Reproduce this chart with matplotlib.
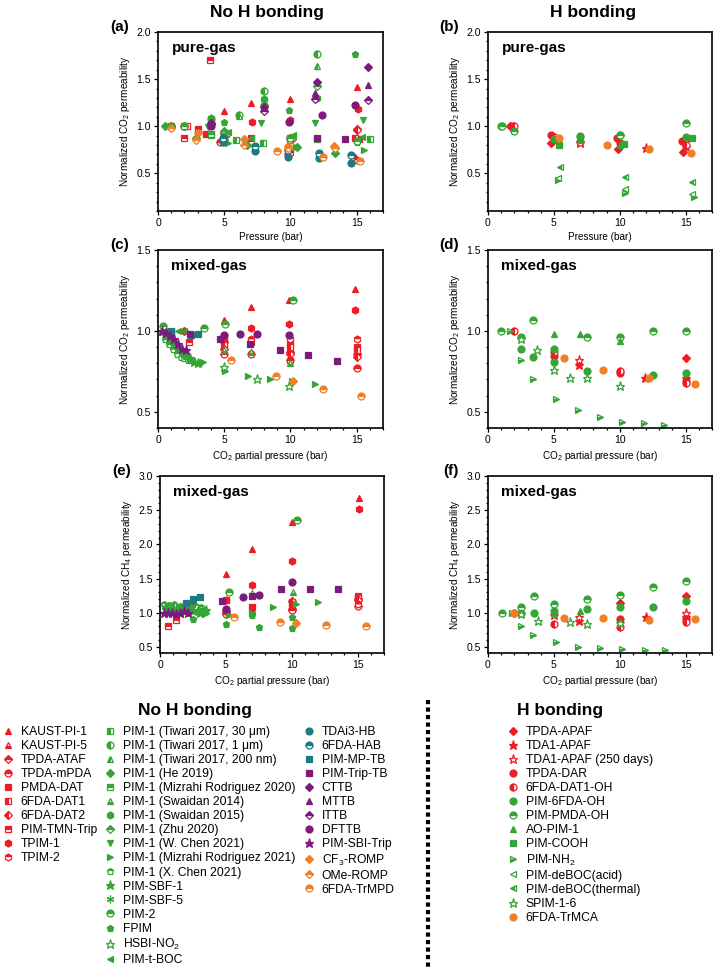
import matplotlib
matplotlib.use('Agg')
import matplotlib.pyplot as plt
from matplotlib.lines import Line2D
from matplotlib.ticker import MultipleLocator

plt.rcParams['font.family'] = ['Liberation Sans', 'DejaVu Sans']
plt.rcParams['mathtext.default'] = 'regular'

RED = '#ee1c24'
GREEN = '#35a535'
PURPLE = '#7d1a7d'
TEAL = '#1b7b80'
ORANGE = '#f07f26'

# ---------------- legend definitions ----------------
nohb_labels_1 = ['KAUST-PI-1', 'KAUST-PI-5', 'TPDA-ATAF', 'TPDA-mPDA', 'PMDA-DAT',
                 '6FDA-DAT1', '6FDA-DAT2', 'PIM-TMN-Trip', 'TPIM-1', 'TPIM-2']
nohb_labels_2 = ['PIM-1 (Tiwari 2017, 30 μm)', 'PIM-1 (Tiwari 2017, 1 μm)',
                 'PIM-1 (Tiwari 2017, 200 nm)', 'PIM-1 (He 2019)',
                 'PIM-1 (Mizrahi Rodriguez 2020)', 'PIM-1 (Swaidan 2014)',
                 'PIM-1 (Swaidan 2015)', 'PIM-1 (Zhu 2020)', 'PIM-1 (W. Chen 2021)',
                 'PIM-1 (Mizrahi Rodriguez 2021)', 'PIM-1 (X. Chen 2021)',
                 'PIM-SBF-1', 'PIM-SBF-5', 'PIM-2', 'FPIM', 'HSBI-NO$_2$', 'PIM-t-BOC']
nohb_labels_3 = ['TDAi3-HB', '6FDA-HAB', 'PIM-MP-TB', 'PIM-Trip-TB', 'CTTB', 'MTTB',
                 'ITTB', 'DFTTB', 'PIM-SBI-Trip', 'CF$_3$-ROMP', 'OMe-ROMP', '6FDA-TrMPD']
hb_labels = ['TPDA-APAF', 'TDA1-APAF', 'TDA1-APAF (250 days)', 'TPDA-DAR', '6FDA-DAT1-OH',
             'PIM-6FDA-OH', 'PIM-PMDA-OH', 'AO-PIM-1', 'PIM-COOH', 'PIM-NH$_2$',
             'PIM-deBOC(acid)', 'PIM-deBOC(thermal)', 'SPIM-1-6', '6FDA-TrMCA']

# styles: (color, marker, fillstyle)
STYLE = {
    'KAUST-PI-1': (RED, '^', 'full'), 'KAUST-PI-5': (RED, '^', 'bottom'),
    'TPDA-ATAF': (RED, 'D', 'top'), 'TPDA-mPDA': (RED, 'o', 'top'),
    'PMDA-DAT': (RED, 's', 'full'), '6FDA-DAT1': (RED, 's', 'left'),
    '6FDA-DAT2': (RED, 'D', 'left'), 'PIM-TMN-Trip': (RED, 's', 'top'),
    'TPIM-1': (RED, 'h', 'full'), 'TPIM-2': (RED, 'h', 'top'),
    'PIM-1 (Tiwari 2017, 30 μm)': (GREEN, 's', 'left'),
    'PIM-1 (Tiwari 2017, 1 μm)': (GREEN, 'o', 'left'),
    'PIM-1 (Tiwari 2017, 200 nm)': (GREEN, '^', 'left'),
    'PIM-1 (He 2019)': (GREEN, 'D', 'full'),
    'PIM-1 (Mizrahi Rodriguez 2020)': (GREEN, 's', 'top'),
    'PIM-1 (Swaidan 2014)': (GREEN, '^', 'bottom'),
    'PIM-1 (Swaidan 2015)': (GREEN, 'h', 'full'),
    'PIM-1 (Zhu 2020)': (GREEN, 'D', 'top'),
    'PIM-1 (W. Chen 2021)': (GREEN, 'v', 'full'),
    'PIM-1 (Mizrahi Rodriguez 2021)': (GREEN, '>', 'full'),
    'PIM-1 (X. Chen 2021)': (GREEN, 'p', 'top'),
    'PIM-SBF-1': (GREEN, '*', 'full'), 'PIM-SBF-5': (GREEN, (6, 2, 0), 'full'),
    'PIM-2': (GREEN, 'o', 'top'), 'FPIM': (GREEN, 'p', 'full'),
    'HSBI-NO$_2$': (GREEN, '*', 'none'), 'PIM-t-BOC': (GREEN, '<', 'full'),
    'TDAi3-HB': (TEAL, 'o', 'full'), '6FDA-HAB': (TEAL, 'o', 'top'),
    'PIM-MP-TB': (TEAL, 's', 'full'), 'PIM-Trip-TB': (PURPLE, 's', 'full'),
    'CTTB': (PURPLE, 'D', 'full'), 'MTTB': (PURPLE, '^', 'full'),
    'ITTB': (PURPLE, 'D', 'top'), 'DFTTB': (PURPLE, 'o', 'full'),
    'PIM-SBI-Trip': (PURPLE, '*', 'full'), 'CF$_3$-ROMP': (ORANGE, 'D', 'full'),
    'OMe-ROMP': (ORANGE, 'D', 'top'), '6FDA-TrMPD': (ORANGE, 'o', 'top'),
    'TPDA-APAF': (RED, 'D', 'full'), 'TDA1-APAF': (RED, '*', 'full'),
    'TDA1-APAF (250 days)': (RED, '*', 'none'), 'TPDA-DAR': (RED, 'o', 'full'),
    '6FDA-DAT1-OH': (RED, 'o', 'left'), 'PIM-6FDA-OH': (GREEN, 'o', 'full'),
    'PIM-PMDA-OH': (GREEN, 'o', 'top'), 'AO-PIM-1': (GREEN, '^', 'full'),
    'PIM-COOH': (GREEN, 's', 'full'), 'PIM-NH$_2$': (GREEN, '>', 'bottom'),
    'PIM-deBOC(acid)': (GREEN, '<', 'none'), 'PIM-deBOC(thermal)': (GREEN, '<', 'left'),
    'SPIM-1-6': (GREEN, '*', 'none'), '6FDA-TrMCA': (ORANGE, 'o', 'full'),
}

# ---------------- data: (a) No H bonding, pure-gas CO2 ----------------
a_series = ['KAUST-PI-1', 'KAUST-PI-5', 'TPDA-ATAF', 'TPDA-mPDA', 'PMDA-DAT', '6FDA-DAT1',
            '6FDA-DAT2', 'PIM-TMN-Trip', 'TPIM-1', 'TPIM-2',
            'PIM-1 (Tiwari 2017, 30 μm)', 'PIM-1 (Tiwari 2017, 1 μm)',
            'PIM-1 (Tiwari 2017, 200 nm)', 'PIM-1 (He 2019)', 'PIM-1 (Mizrahi Rodriguez 2020)',
            'PIM-1 (Swaidan 2014)', 'PIM-1 (Swaidan 2015)', 'PIM-1 (Zhu 2020)',
            'PIM-1 (W. Chen 2021)', 'PIM-1 (Mizrahi Rodriguez 2021)', 'PIM-1 (X. Chen 2021)',
            'PIM-2', 'FPIM', 'PIM-t-BOC', 'TDAi3-HB', '6FDA-HAB', 'PIM-Trip-TB', 'CTTB',
            'MTTB', 'ITTB', 'DFTTB', 'CF$_3$-ROMP', 'OMe-ROMP', '6FDA-TrMPD']
a_x = [[1, 5, 7, 10, 15], [1, 5, 10, 15], [1, 5, 10, 15], [1, 4.7, 9.8, 14.7],
       [3.6, 7.0, 10.0, 15.2], [2.2, 5, 10, 14.9], [2, 5.2, 10.1, 15.0], [2.0, 3.0, 3.9],
       [7.1, 10.0, 15.1], [5, 10, 15],
       [1, 4.0, 5.9, 7.9, 12.0, 16.0], [2, 4, 6.1, 8.0, 12.0], [2, 4, 6.1, 8.0, 12.0],
       [0.5, 2.9, 5.0, 6.7, 10.5, 13.4], [1.0, 2.0, 4.0, 10.0], [4.0, 8, 12.0],
       [4.0, 8, 12], [5, 8, 12], [3.8, 7.8, 11.9, 15.5], [5.3, 10.4, 15.6], [10, 15],
       [5, 10, 15], [5.0, 9.9, 14.85], [5.3, 7.0, 10.2, 15.45],
       [4.9, 7.3, 9.8, 12.2, 14.6], [4.9, 7.3, 9.8, 12.2, 14.6], [12.0, 14.1],
       [4, 8, 12, 15.85], [4, 8, 11.9, 15.85], [4, 8, 11.9, 15.85], [4, 9.9, 12.4, 14.85],
       [3, 6.5, 9.8, 13.3], [1.0, 2.9, 6.5, 9.8, 13.4], [9.0, 12.5, 15.3]]
a_y = [[1.0, 1.16, 1.25, 1.29, 1.42], [1.0, 0.95, 0.88, 0.86], [1.0, 0.93, 0.87, 0.975],
       [0.99, 0.83, 0.71, 0.67], [0.92, 0.87, 0.86, 0.86], [1.0, 0.90, 0.88, 0.87],
       [1.0, 0.92, 0.86, 0.96], [0.87, 0.975, 1.70], [1.045, 1.065, 1.18], [0.86, 0.72, 0.64],
       [1.0, 0.91, 0.85, 0.82, 0.86, 0.86], [1.0, 1.08, 1.12, 1.37, 1.77],
       [1.0, 1.05, 1.11, 1.25, 1.64], [1.0, 0.88, 0.85, 0.80, 0.78, 0.72],
       [1.0, 1.0, 0.92, 0.88], [1.08, 1.27, 1.45], [1.09, 1.29, 1.30], [0.95, 1.22, 1.43],
       [0.99, 1.035, 1.03, 1.07], [0.82, 0.78, 0.75], [0.85, 0.83], [0.90, 0.87, 0.84],
       [1.05, 1.17, 1.77], [0.94, 0.87, 0.91, 0.89],
       [0.83, 0.74, 0.675, 0.66, 0.61], [0.87, 0.79, 0.745, 0.715, 0.69], [0.87, 0.86],
       [1.03, 1.20, 1.47, 1.625], [1.03, 1.21, 1.35, 1.44], [1.02, 1.16, 1.29, 1.28],
       [1.0, 1.045, 1.12, 1.23], [0.93, 0.86, 0.79, 0.79], [0.98, 0.85, 0.80, 0.77, 0.77],
       [0.74, 0.67, 0.63]]

# ---------------- data: (b) H bonding, pure-gas CO2 ----------------
b_series = ['TPDA-APAF', 'TDA1-APAF', 'TDA1-APAF (250 days)', 'TPDA-DAR', '6FDA-DAT1-OH',
            'PIM-6FDA-OH', 'PIM-PMDA-OH', 'AO-PIM-1', 'PIM-COOH', 'PIM-NH$_2$',
            'PIM-deBOC(acid)', 'PIM-deBOC(thermal)', '6FDA-TrMCA']
b_x = [[1.7, 4.75, 9.9, 14.8], [7, 12.0, 15], [7, 15], [1.8, 4.75, 9.8, 14.7],
       [2.0, 5.0, 10.0, 15.0], [1.0, 5.0, 10.0, 15.0], [1.1, 2.0, 7.0, 10.0, 15.0],
       [7, 10], [5.4, 7, 10.3, 15.45], [5.3, 10.4, 15.6], [5.3, 10.4, 15.5],
       [5.5, 10.4, 15.5], [5.4, 9.06, 12.2, 15.4]]
b_y = [[1.0, 0.82, 0.76, 0.73], [0.83, 0.77, 0.78], [0.82, 0.85], [1.0, 0.91, 0.87, 0.84],
       [1.0, 0.89, 0.82, 0.80], [1.0, 0.86, 0.91, 0.89], [1.0, 0.95, 0.90, 0.91, 1.03],
       [0.86, 0.80], [0.80, 0.85, 0.81, 0.87], [0.43, 0.29, 0.25], [0.45, 0.33, 0.28],
       [0.57, 0.46, 0.41], [0.88, 0.80, 0.76, 0.72]]

# ---------------- data: (c) No H bonding, mixed-gas CO2 ----------------
c_series = ['KAUST-PI-1', 'KAUST-PI-5', 'TPDA-ATAF', 'TPDA-mPDA', 'PMDA-DAT', '6FDA-DAT1',
            '6FDA-DAT2', 'PIM-TMN-Trip', 'TPIM-1', 'TPIM-2', 'PIM-1 (Swaidan 2014)',
            'PIM-1 (Mizrahi Rodriguez 2021)', 'PIM-1 (X. Chen 2021)', 'PIM-SBF-1',
            'PIM-SBF-5', 'PIM-2', 'HSBI-NO$_2$', 'PIM-t-BOC', 'PIM-MP-TB', 'PIM-Trip-TB',
            'DFTTB', 'PIM-SBI-Trip', 'CF$_3$-ROMP', '6FDA-TrMPD']
c_x = [[4.95, 7.0, 9.9, 14.9], [7, 10], [5, 10, 15], [5, 7, 10, 15], [5, 7, 10, 15],
       [5, 10, 15], [2.0, 5, 10, 15], [2.35], [7.0, 9.9, 14.85], [5, 7, 10, 15],
       [5, 7, 10], [3.4, 5.1, 6.8, 8.45, 10.15, 11.85],
       [0.5, 0.8, 1.1, 1.4, 1.7, 2.0, 2.3],
       [0.3, 0.6, 0.9, 1.2, 1.5, 1.8, 2.1, 2.4, 2.7, 3.0],
       [0.4, 0.7, 1.0, 1.3, 1.6, 1.9, 2.2, 2.5, 2.8, 3.1],
       [0.4, 3.5, 5.1, 10.2], [4.95, 7.45, 9.9], [0.5, 1.0, 1.5, 2.0], [1.0, 2.5, 3.0],
       [2.45, 4.65, 6.95, 9.2, 11.35, 13.5], [4.95, 6.2, 7.45, 9.9],
       [0.3, 0.6, 0.9, 1.2, 1.5, 1.8, 2.1], [10.2], [5.5, 8.95, 12.45, 15.35]]
c_y = [[1.07, 1.15, 1.19, 1.26], [0.87, 0.82], [0.93, 0.87, 0.86], [0.86, 0.86, 0.82, 0.77],
       [0.95, 0.93, 0.92, 0.90], [0.91, 0.90, 0.88], [1.0, 0.89, 0.86, 0.84], [0.93],
       [1.02, 1.04, 1.13], [0.97, 0.95, 0.95, 0.95], [0.88, 0.87, 0.80],
       [0.81, 0.75, 0.72, 0.70, 0.69, 0.675],
       [0.95, 0.92, 0.89, 0.86, 0.84, 0.83, 0.82],
       [1.0, 0.97, 0.94, 0.91, 0.89, 0.87, 0.85, 0.83, 0.81, 0.80],
       [0.99, 0.96, 0.93, 0.90, 0.88, 0.86, 0.84, 0.82, 0.81, 0.80],
       [1.03, 1.02, 1.04, 1.19], [0.78, 0.70, 0.66], [1.0, 1.0, 1.0, 1.0], [1.0, 0.975, 0.98],
       [0.98, 0.95, 0.92, 0.884, 0.853, 0.812], [0.975, 0.98, 0.98, 0.975],
       [1.0, 0.99, 0.97, 0.95, 0.92, 0.89, 0.88], [0.69], [0.82, 0.72, 0.64, 0.60]]

# ---------------- data: (d) H bonding, mixed-gas CO2 ----------------
d_series = ['TPDA-APAF', 'TDA1-APAF', 'TDA1-APAF (250 days)', 'TPDA-DAR', '6FDA-DAT1-OH',
            'PIM-6FDA-OH', 'PIM-PMDA-OH', 'AO-PIM-1', 'PIM-NH$_2$', 'SPIM-1-6', '6FDA-TrMCA']
d_x = [[15], [6.9, 11.9, 15], [6.9], [5, 10, 15], [2.0, 5, 10, 15],
       [2.5, 3.4, 5, 5, 7.5, 12.5, 15], [1.0, 2.5, 3.4, 7.5, 10, 12.5, 15], [5, 7.0, 10],
       [1.7, 2.5, 3.4, 5.15, 6.8, 8.5, 10.15, 11.85, 13.35],
       [2.5, 3.7, 5, 6.2, 7.5, 10], [5.8, 8.7, 12.2, 15.7]]
d_y = [[0.83], [0.79, 0.71, 0.71], [0.82], [0.845, 0.74, 0.69], [1.0, 0.87, 0.75, 0.68],
       [0.89, 0.84, 0.89, 0.81, 0.75, 0.73, 0.74], [1.0, 0.96, 1.07, 0.96, 0.96, 1.0, 1.0],
       [0.98, 0.98, 0.94], [1.0, 0.82, 0.70, 0.58, 0.51, 0.47, 0.44, 0.43, 0.42],
       [0.95, 0.88, 0.76, 0.71, 0.71, 0.66], [0.83, 0.76, 0.71, 0.67]]

# ---------------- data: (e) No H bonding, mixed-gas CH4 ----------------
e_series = ['KAUST-PI-1', 'KAUST-PI-5', 'TPDA-ATAF', 'TPDA-mPDA', 'PMDA-DAT', '6FDA-DAT1',
            '6FDA-DAT2', 'PIM-TMN-Trip', 'TPIM-1', 'TPIM-2', 'PIM-1 (Swaidan 2014)',
            'PIM-1 (Mizrahi Rodriguez 2021)', 'PIM-1 (X. Chen 2021)', 'PIM-SBF-1',
            'PIM-SBF-5', 'PIM-2', 'FPIM', 'PIM-t-BOC', 'PIM-MP-TB', 'PIM-Trip-TB', 'DFTTB',
            'PIM-SBI-Trip', 'CF$_3$-ROMP', '6FDA-TrMPD']
e_x = [[5, 7, 10, 15.1], [5, 7, 10, 15], [5, 10, 15], [5, 10, 15], [5, 7, 10, 15],
       [10, 15], [5, 10, 15], [0.6, 1.25, 2.4], [5, 7, 10, 15.1], [15], [7.0, 10.1],
       [3.4, 5.2, 7.0, 8.55, 10.35, 12.0], [0.3, 0.7, 1.1, 1.5, 1.9, 2.3, 2.7, 3.1],
       [0.5, 1.0, 1.5, 2.0, 2.5, 3.0, 3.5], [0.4, 0.8, 1.2, 1.6, 2.0, 2.4, 2.8, 3.2],
       [5.2, 10.4], [2.5, 5.0, 7.0, 7.5, 10, 10], [0.5, 1.0, 1.5, 2.0], [2.0, 2.5, 3.0],
       [4.7, 7.0, 9.2, 11.4, 13.5], [5.0, 6.3, 7.55, 10.0],
       [0.3, 0.6, 0.9, 1.2, 1.5, 1.8, 2.1], [10.3], [5.6, 9.1, 12.6, 15.6]]
e_y = [[1.57, 1.93, 2.32, 2.68], [1.05, 1.04, 1.10, 1.15], [1.0, 1.05, 1.20],
       [0.98, 1.04, 1.10], [1.18, 1.08, 1.15, 1.25], [1.12, 1.22], [1.02, 1.17, 1.18],
       [0.80, 0.90, 1.10], [1.18, 1.41, 1.76, 2.52], [1.12], [1.29, 1.30],
       [0.98, 0.97, 0.99, 1.09, 1.12, 1.15], [1.12, 1.11, 1.12, 1.10, 1.11, 1.09, 1.10, 1.08],
       [1.05, 1.07, 1.03, 1.05, 1.02, 1.00, 1.04], [1.08, 1.10, 1.07, 1.08, 1.05, 1.07, 1.03, 1.05],
       [1.30, 2.35], [0.91, 0.84, 0.96, 0.79, 0.94, 0.78], [1.0, 1.0, 0.98, 1.0],
       [1.14, 1.20, 1.23], [1.17, 1.25, 1.34, 1.34, 1.35], [1.06, 1.23, 1.26, 1.45],
       [1.0, 0.99, 1.0, 0.98, 1.0, 1.02, 1.0], [0.85], [0.94, 0.86, 0.82, 0.81]]

# ---------------- data: (f) H bonding, mixed-gas CH4 ----------------
f_series = ['TPDA-APAF', 'TDA1-APAF', 'TDA1-APAF (250 days)', 'TPDA-DAR', '6FDA-DAT1-OH',
            'PIM-6FDA-OH', 'PIM-PMDA-OH', 'AO-PIM-1', 'PIM-NH$_2$', 'SPIM-1-6', '6FDA-TrMCA']
f_x = [[10, 15], [6.9, 12.0, 15], [5, 6.9, 15], [10, 15], [2.0, 5, 10, 15],
       [2.5, 3.5, 5, 7.5, 10, 12.5, 15], [1.05, 2.5, 3.5, 5, 7.5, 10, 12.5, 15], [5, 7.0],
       [1.8, 2.5, 3.4, 5.15, 6.8, 8.5, 10.15, 11.9, 13.4], [2.5, 3.8, 6.2, 7.5, 10],
       [2.0, 5.8, 8.7, 12.25, 15.7]]
f_y = [[1.14, 1.24], [0.88, 0.93, 0.94], [0.96, 0.94, 1.0], [0.91, 0.91],
       [0.99, 0.84, 0.79, 0.87], [1.0, 0.99, 1.02, 1.05, 1.08, 1.09, 1.17],
       [1.0, 1.08, 1.24, 1.13, 1.20, 1.26, 1.37, 1.47], [1.0, 1.03],
       [1.0, 0.81, 0.68, 0.57, 0.50, 0.48, 0.47, 0.45, 0.46],
       [0.98, 0.88, 0.87, 0.83, 0.85], [1.0, 0.92, 0.92, 0.89, 0.91]]

# ---------------- drawing ----------------
W, H = 718, 969
fig = plt.figure(figsize=(W / 100, H / 100), dpi=100)
fig.patch.set_facecolor('white')

MS = 5.0


def msize(marker):
    if marker == '*':
        return MS * 1.35
    if marker == 'D':
        return MS * 0.85
    if isinstance(marker, tuple):
        return MS * 1.1
    return MS


def style_kw(name):
    col, mk, fs = STYLE[name]
    kw = dict(linestyle='none', marker=mk, markersize=msize(mk), markeredgecolor=col,
              markeredgewidth=0.9, fillstyle=fs if fs != 'none' else 'full')
    if fs == 'none':
        kw['markerfacecolor'] = 'white'
    else:
        kw['markerfacecolor'] = col
        kw['markerfacecoloralt'] = 'white'
    return kw


def pbox(l, t, r, b):
    return [l / W, 1 - b / H, (r - l) / W, (b - t) / H]


panels = [
    ('(a)', pbox(158, 32, 383, 211), a_series, a_x, a_y, (0.1, 2.0), [0.5, 1.0, 1.5, 2.0],
     'pure-gas', 'Pressure (bar)', 'Normalized CO$_2$ permeability'),
    ('(b)', pbox(488, 32, 712, 211), b_series, b_x, b_y, (0.1, 2.0), [0.5, 1.0, 1.5, 2.0],
     'pure-gas', 'Pressure (bar)', 'Normalized CO$_2$ permeability'),
    ('(c)', pbox(158, 250, 383, 428), c_series, c_x, c_y, (0.4, 1.5), [0.5, 1.0, 1.5],
     'mixed-gas', 'CO$_2$ partial pressure (bar)', 'Normalized CO$_2$ permeability'),
    ('(d)', pbox(488, 250, 712, 428), d_series, d_x, d_y, (0.4, 1.5), [0.5, 1.0, 1.5],
     'mixed-gas', 'CO$_2$ partial pressure (bar)', 'Normalized CO$_2$ permeability'),
    ('(e)', pbox(160, 476, 384, 653), e_series, e_x, e_y, (0.41, 3.0),
     [0.5, 1.0, 1.5, 2.0, 2.5, 3.0],
     'mixed-gas', 'CO$_2$ partial pressure (bar)', 'Normalized CH$_4$ permeability'),
    ('(f)', pbox(488, 476, 712, 653), f_series, f_x, f_y, (0.41, 3.0),
     [0.5, 1.0, 1.5, 2.0, 2.5, 3.0],
     'mixed-gas', 'CO$_2$ partial pressure (bar)', 'Normalized CH$_4$ permeability'),
]

for tag, box, series, xs, ys, ylim, yticks, note, xlabel, ylabel in panels:
    ax = fig.add_axes(box)
    for name, x, y in zip(series, xs, ys):
        ax.plot(x, y, **style_kw(name))
    ax.set_xlim(0, 17)
    ax.set_ylim(*ylim)
    ax.set_xticks([0, 5, 10, 15])
    ax.set_yticks(yticks)
    ax.set_yticklabels([f'{v:.1f}' for v in yticks])
    ax.xaxis.set_minor_locator(MultipleLocator(1))
    ax.yaxis.set_minor_locator(MultipleLocator(0.1))
    ax.tick_params(which='both', direction='out', labelsize=7.5, width=0.9, pad=2,
                   top=False, right=False)
    ax.tick_params(which='major', length=3)
    ax.tick_params(which='minor', length=1.6)
    for sp in ax.spines.values():
        sp.set_linewidth(1.2)
    ax.set_xlabel(xlabel, fontsize=7.2, labelpad=3)
    ax.set_ylabel(ylabel, fontsize=7.2, labelpad=3)
    ax.text(0.06, 0.95, note, transform=ax.transAxes, fontsize=11, fontweight='bold',
            va='top', ha='left')
    ax.text(-0.13, 1.03, tag, transform=ax.transAxes, fontsize=11, fontweight='bold',
            va='center', ha='right')

fig.text(267 / W, 1 - 12 / H, 'No H bonding', fontsize=12.5, fontweight='bold',
         ha='center', va='center')
fig.text(593 / W, 1 - 12 / H, 'H bonding', fontsize=12.5, fontweight='bold',
         ha='center', va='center')

# ---------------- legend area ----------------
fig.text(195 / W, 1 - 711 / H, 'No H bonding', fontsize=12.5, fontweight='bold',
         ha='center', va='center')
fig.text(560 / W, 1 - 711 / H, 'H bonding', fontsize=12.5, fontweight='bold',
         ha='center', va='center')


def make_handles(labels):
    return [Line2D([], [], **style_kw(n)) for n in labels]


for labels, xpix in [(nohb_labels_1, 2), (nohb_labels_2, 104), (nohb_labels_3, 303),
                     (hb_labels, 507)]:
    fig.legend(make_handles(labels), labels, loc='upper left',
               bbox_to_anchor=(xpix / W, 1 - 726 / H), frameon=False, fontsize=8.7,
               handlelength=1.0, handletextpad=0.55, labelspacing=0.17, borderpad=0,
               borderaxespad=0)

fig.add_artist(Line2D([428 / W, 428 / W], [1 - 700 / H, 0], transform=fig.transFigure,
                      color='black', linewidth=3.0, linestyle=(0, (1, 0.8)),
                      dash_capstyle='butt'))

fig.savefig('out.png', dpi=100, facecolor='white')
